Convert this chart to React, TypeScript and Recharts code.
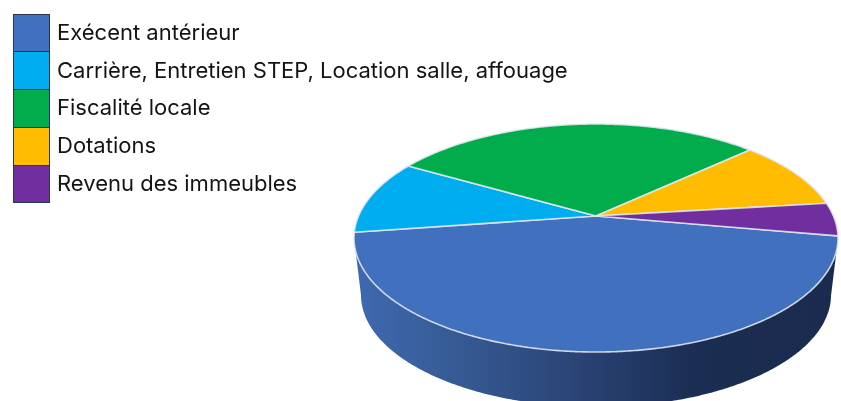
import React from "react";
import { PieChart, Pie, Legend } from "recharts";

const categories = [
  "Exécent antérieur",
  "Carrière, Entretien STEP, Location salle, affouage",
  "Fiscalité locale",
  "Dotations",
  "Revenu des immeubles",
];
const shares = [44.9, 10.6, 29.8, 10.0, 4.7];
const colors = ["#4170BE", "#00ADEE", "#00AC4C", "#FFBC00", "#702E9E"];

const chartData = categories.map((name, i) => ({ name, value: shares[i], fill: colors[i] }));

// Tilted-disc projection
const TILT = 0.193; // how far the apex sits above the centre of the ellipse
const SQUASH = 114 / 242;
const DEPTH = 57;
const BASE_SHRINK_X = 235 / 242;
const BASE_SHRINK_Y = 112 / 114;

function project(deg: number, cx: number, cy: number, r: number) {
  const rad = (deg * Math.PI) / 180;
  const s = Math.sin(rad);
  const c = Math.cos(rad);
  const d = 1 + TILT * s;
  const X = (c * Math.sqrt(1 - TILT * TILT)) / d;
  const Y = (s + TILT) / d;
  const ry = r * SQUASH;
  return { x: cx + r * X, y: cy + TILT * ry - ry * Y, Y };
}

function TiltedSector(props: any) {
  const { cx, cy, outerRadius: r, startAngle, endAngle, fill } = props;
  const lo = Math.min(startAngle, endAngle);
  const hi = Math.max(startAngle, endAngle);
  const rim: { x: number; y: number; Y: number }[] = [];
  const steps = Math.max(2, Math.ceil((hi - lo) * 2));
  for (let i = 0; i <= steps; i++) rim.push(project(lo + ((hi - lo) * i) / steps, cx, cy, r));

  const front = rim.filter((p) => p.Y <= 0);
  const ey = cy + TILT * r * SQUASH;
  let wall = "";
  if (front.length > 1) {
    const base = [...front]
      .reverse()
      .map((p) => ({
        x: cx + (p.x - cx) * BASE_SHRINK_X,
        y: ey + DEPTH + (p.y - ey) * BASE_SHRINK_Y,
      }));
    wall =
      "M" +
      front.map((p) => `${p.x.toFixed(2)},${p.y.toFixed(2)}`).join("L") +
      "L" +
      base.map((p) => `${p.x.toFixed(2)},${p.y.toFixed(2)}`).join("L") +
      "Z";
  }
  const top =
    `M${cx},${cy}L` + rim.map((p) => `${p.x.toFixed(2)},${p.y.toFixed(2)}`).join("L") + "Z";
  return (
    <g style={{ filter: "blur(0.5px)" }}>
      {wall && <path d={wall} fill="url(#wallShade)" />}
      <path d={top} fill={fill} stroke="#e4e9f3" strokeOpacity={0.85} strokeWidth={1.6} strokeLinejoin="round" />
    </g>
  );
}

function LegendBox(props: any) {
  const items = [...(props.payload || [])].sort(
    (a: any, b: any) => categories.indexOf(a.value) - categories.indexOf(b.value)
  );
  return (
    <div style={{ position: "relative", width: 600 }}>
      {items.map((it: any) => (
        <div key={it.value} style={{ display: "flex", alignItems: "center", height: 37.8 }}>
          <div
            style={{
              width: 35,
              height: 36.8,
              background: it.color,
              border: "1px solid #2c3550",
              flex: "none",
            }}
          />
          <div
            style={{
              marginLeft: 7,
              fontFamily: "Inter, sans-serif",
              fontSize: 22,
              color: "#141414",
              whiteSpace: "nowrap",
              position: "relative",
              top: -1,
              filter: "blur(0.25px)",
            }}
          >
            {it.value}
          </div>
        </div>
      ))}
    </div>
  );
}

export default function App() {
  return (
    <div style={{ position: "absolute", left: 0, top: 0, width: 841, height: 401, overflow: "hidden", background: "#fff" }}>
      <PieChart width={841} height={401} margin={{ top: 0, right: 0, bottom: 0, left: 0 }}>
        <defs>
          <linearGradient id="wallShade" gradientUnits="userSpaceOnUse" x1={355} y1={0} x2={838} y2={0}>
            <stop offset="0" stopColor="#3F69B0" />
            <stop offset="0.25" stopColor="#34578F" />
            <stop offset="0.5" stopColor="#284070" />
            <stop offset="0.7" stopColor="#1B2D52" />
            <stop offset="1" stopColor="#1A2B4E" />
          </linearGradient>
        </defs>
        <Legend
          layout="horizontal"
          align="center"
          verticalAlign="middle"
          content={<LegendBox />}
          wrapperStyle={{ position: "absolute", left: 13, top: 14, width: 600, height: 190 }}
        />
        <Pie
          data={chartData}
          dataKey="value"
          nameKey="name"
          cx={596}
          cy={216}
          innerRadius={0}
          outerRadius={242}
          startAngle={-10.1}
          endAngle={-370.1}
          stroke="none"
          isAnimationActive={false}
          shape={<TiltedSector />}
        />
      </PieChart>
    </div>
  );
}
